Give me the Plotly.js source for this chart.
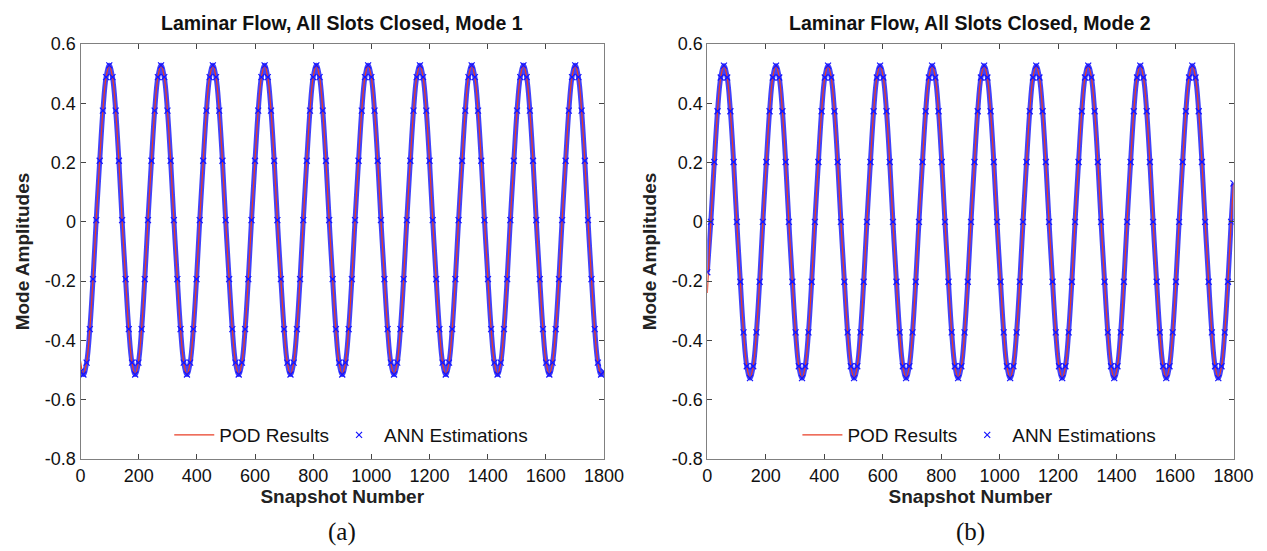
<!DOCTYPE html>
<html>
<head>
<meta charset="utf-8">
<script src="https://cdn.plot.ly/plotly-3.0.1.min.js"></script>
<style>html,body{margin:0;padding:0;background:#fff}#chart{width:1267px;height:551px}</style>
</head>
<body>
<div id="chart"></div>
<script>
// ---------- DATA ----------
const titles = ['Laminar Flow, All Slots Closed, Mode 1', 'Laminar Flow, All Slots Closed, Mode 2'];
const panelLabels = ['(a)', '(b)'];
const xTicks = [0, 200, 400, 600, 800, 1000, 1200, 1400, 1600, 1800];
const xTickText = ['0', '200', '400', '600', '800', '1000', '1200', '1400', '1600', '1800'];
const yTicks = [-0.8, -0.6, -0.4, -0.2, 0, 0.2, 0.4, 0.6];
const yTickText = ['-0.8', '-0.6', '-0.4', '-0.2', '0', '0.2', '0.4', '0.6'];

// Mode 1 snapshot numbers
const snap1 = [0,
  10,21,32,43,54,66,77,88,99,110,121,132,143,155,166,177,
  188,199,210,221,232,244,255,266,277,288,299,310,321,333,344,355,
  366,377,388,399,410,422,433,444,455,466,477,488,499,511,522,533,
  544,555,566,577,588,600,611,622,633,644,655,666,677,689,700,711,
  722,733,744,755,766,778,789,800,811,822,833,844,855,867,878,889,
  900,911,922,933,944,956,967,978,989,1000,1011,1022,1033,1045,1056,1067,
  1078,1089,1100,1111,1122,1134,1145,1156,1167,1178,1189,1200,1211,1223,1234,1245,
  1256,1267,1278,1289,1300,1312,1323,1334,1345,1356,1367,1378,1389,1401,1412,1423,
  1434,1445,1456,1467,1478,1490,1501,1512,1523,1534,1545,1556,1567,1579,1590,1601,
  1612,1623,1634,1645,1656,1668,1679,1690,1701,1712,1723,1734,1745,1757,1768,1779,
  1790, 1800];
// Mode 1 POD results
const pod1 = [-0.47,
  -0.515,-0.475,-0.362,-0.193,0.006,0.206,0.375,0.488,0.528,0.488,0.375,0.206,0.006,-0.193,-0.362,-0.475,
  -0.515,-0.475,-0.362,-0.193,0.006,0.206,0.375,0.488,0.528,0.488,0.375,0.206,0.006,-0.193,-0.362,-0.475,
  -0.515,-0.475,-0.362,-0.193,0.006,0.206,0.375,0.488,0.528,0.488,0.375,0.206,0.006,-0.193,-0.362,-0.475,
  -0.515,-0.475,-0.362,-0.193,0.006,0.206,0.375,0.488,0.528,0.488,0.375,0.206,0.006,-0.193,-0.362,-0.475,
  -0.515,-0.475,-0.362,-0.193,0.006,0.206,0.375,0.488,0.528,0.488,0.375,0.206,0.006,-0.193,-0.362,-0.475,
  -0.515,-0.475,-0.362,-0.193,0.006,0.206,0.375,0.488,0.528,0.488,0.375,0.206,0.006,-0.193,-0.362,-0.475,
  -0.515,-0.475,-0.362,-0.193,0.006,0.206,0.375,0.488,0.528,0.488,0.375,0.206,0.006,-0.193,-0.362,-0.475,
  -0.515,-0.475,-0.362,-0.193,0.006,0.206,0.375,0.488,0.528,0.488,0.375,0.206,0.006,-0.193,-0.362,-0.475,
  -0.515,-0.475,-0.362,-0.193,0.006,0.206,0.375,0.488,0.528,0.488,0.375,0.206,0.006,-0.193,-0.362,-0.475,
  -0.515,-0.475,-0.362,-0.193,0.006,0.206,0.375,0.488,0.528,0.488,0.375,0.206,0.006,-0.193,-0.362,-0.475,
  -0.515, -0.505];
// Mode 1 ANN estimations
const ann1 = [-0.505,
  -0.515,-0.475,-0.362,-0.193,0.006,0.206,0.375,0.488,0.528,0.488,0.375,0.206,0.006,-0.193,-0.362,-0.475,
  -0.515,-0.475,-0.362,-0.193,0.006,0.206,0.375,0.488,0.528,0.488,0.375,0.206,0.006,-0.193,-0.362,-0.475,
  -0.515,-0.475,-0.362,-0.193,0.006,0.206,0.375,0.488,0.528,0.488,0.375,0.206,0.006,-0.193,-0.362,-0.475,
  -0.515,-0.475,-0.362,-0.193,0.006,0.206,0.375,0.488,0.528,0.488,0.375,0.206,0.006,-0.193,-0.362,-0.475,
  -0.515,-0.475,-0.362,-0.193,0.006,0.206,0.375,0.488,0.528,0.488,0.375,0.206,0.006,-0.193,-0.362,-0.475,
  -0.515,-0.475,-0.362,-0.193,0.006,0.206,0.375,0.488,0.528,0.488,0.375,0.206,0.006,-0.193,-0.362,-0.475,
  -0.515,-0.475,-0.362,-0.193,0.006,0.206,0.375,0.488,0.528,0.488,0.375,0.206,0.006,-0.193,-0.362,-0.475,
  -0.515,-0.475,-0.362,-0.193,0.006,0.206,0.375,0.488,0.528,0.488,0.375,0.206,0.006,-0.193,-0.362,-0.475,
  -0.515,-0.475,-0.362,-0.193,0.006,0.206,0.375,0.488,0.528,0.488,0.375,0.206,0.006,-0.193,-0.362,-0.475,
  -0.515,-0.475,-0.362,-0.193,0.006,0.206,0.375,0.488,0.528,0.488,0.375,0.206,0.006,-0.193,-0.362,-0.475,
  -0.515, -0.505];

// Mode 2 snapshot numbers
const snap2 = [0,
  12,24,35,46,57,68,79,90,101,113,124,135,
  146,157,168,179,190,202,213,224,235,246,257,268,279,291,302,313,
  324,335,346,357,368,380,391,402,413,424,435,446,457,469,480,491,
  502,513,524,535,546,558,569,580,591,602,613,624,635,647,658,669,
  680,691,702,713,724,736,747,758,769,780,791,802,813,825,836,847,
  858,869,880,891,902,914,925,936,947,958,969,980,991,1003,1014,1025,
  1036,1047,1058,1069,1080,1092,1103,1114,1125,1136,1147,1158,1169,1181,1192,1203,
  1214,1225,1236,1247,1258,1270,1281,1292,1303,1314,1325,1336,1347,1359,1370,1381,
  1392,1403,1414,1425,1436,1448,1459,1470,1481,1492,1503,1514,1525,1537,1548,1559,
  1570,1581,1592,1603,1614,1626,1637,1648,1659,1670,1681,1692,1703,1715,1726,1737,
  1748,1759,1770,1781,1792, 1800];
// Mode 2 POD results
const pod2 = [-0.24,
  0,0.202,0.373,0.487,0.527,0.487,0.373,0.202,0,-0.202,-0.373,-0.487,
  -0.527,-0.487,-0.373,-0.202,0,0.202,0.373,0.487,0.527,0.487,0.373,0.202,0,-0.202,-0.373,-0.487,
  -0.527,-0.487,-0.373,-0.202,0,0.202,0.373,0.487,0.527,0.487,0.373,0.202,0,-0.202,-0.373,-0.487,
  -0.527,-0.487,-0.373,-0.202,0,0.202,0.373,0.487,0.527,0.487,0.373,0.202,0,-0.202,-0.373,-0.487,
  -0.527,-0.487,-0.373,-0.202,0,0.202,0.373,0.487,0.527,0.487,0.373,0.202,0,-0.202,-0.373,-0.487,
  -0.527,-0.487,-0.373,-0.202,0,0.202,0.373,0.487,0.527,0.487,0.373,0.202,0,-0.202,-0.373,-0.487,
  -0.527,-0.487,-0.373,-0.202,0,0.202,0.373,0.487,0.527,0.487,0.373,0.202,0,-0.202,-0.373,-0.487,
  -0.527,-0.487,-0.373,-0.202,0,0.202,0.373,0.487,0.527,0.487,0.373,0.202,0,-0.202,-0.373,-0.487,
  -0.527,-0.487,-0.373,-0.202,0,0.202,0.373,0.487,0.527,0.487,0.373,0.202,0,-0.202,-0.373,-0.487,
  -0.527,-0.487,-0.373,-0.202,0,0.202,0.373,0.487,0.527,0.487,0.373,0.202,0,-0.202,-0.373,-0.487,
  -0.527,-0.487,-0.373,-0.202,0, 0.13];
// Mode 2 ANN estimations
const ann2 = [-0.17,
  0,0.202,0.373,0.487,0.527,0.487,0.373,0.202,0,-0.202,-0.373,-0.487,
  -0.527,-0.487,-0.373,-0.202,0,0.202,0.373,0.487,0.527,0.487,0.373,0.202,0,-0.202,-0.373,-0.487,
  -0.527,-0.487,-0.373,-0.202,0,0.202,0.373,0.487,0.527,0.487,0.373,0.202,0,-0.202,-0.373,-0.487,
  -0.527,-0.487,-0.373,-0.202,0,0.202,0.373,0.487,0.527,0.487,0.373,0.202,0,-0.202,-0.373,-0.487,
  -0.527,-0.487,-0.373,-0.202,0,0.202,0.373,0.487,0.527,0.487,0.373,0.202,0,-0.202,-0.373,-0.487,
  -0.527,-0.487,-0.373,-0.202,0,0.202,0.373,0.487,0.527,0.487,0.373,0.202,0,-0.202,-0.373,-0.487,
  -0.527,-0.487,-0.373,-0.202,0,0.202,0.373,0.487,0.527,0.487,0.373,0.202,0,-0.202,-0.373,-0.487,
  -0.527,-0.487,-0.373,-0.202,0,0.202,0.373,0.487,0.527,0.487,0.373,0.202,0,-0.202,-0.373,-0.487,
  -0.527,-0.487,-0.373,-0.202,0,0.202,0.373,0.487,0.527,0.487,0.373,0.202,0,-0.202,-0.373,-0.487,
  -0.527,-0.487,-0.373,-0.202,0,0.202,0.373,0.487,0.527,0.487,0.373,0.202,0,-0.202,-0.373,-0.487,
  -0.527,-0.487,-0.373,-0.202,0, 0.13];

// ---------- CHART ----------
const W = 1267, H = 551;
const FONT = 'Liberation Sans, Arial, Helvetica, sans-serif';
const RED = 'rgb(232,62,38)';
const BLUE = 'rgb(20,20,255)';
const px = v => v / W;
const py = v => 1 - v / H;

const panels = [
  {x: snap1, pod: pod1, ann: ann1, xa: 'x', ya: 'y', lg: 'legend', dom: [80.5, 604]},
  {x: snap2, pod: pod2, ann: ann2, xa: 'x2', ya: 'y2', lg: 'legend2', dom: [707.3, 1233.5]}
];

const traces = [];
panels.forEach((p, i) => {
  traces.push({
    x: p.x, y: p.ann, xaxis: p.xa, yaxis: p.ya, type: 'scatter', mode: 'lines',
    line: {color: 'rgba(25,25,250,0.82)', width: 5, shape: 'spline', smoothing: 1},
    showlegend: false, hoverinfo: 'skip', legend: p.lg
  });
  traces.push({
    x: p.x, y: p.pod, xaxis: p.xa, yaxis: p.ya, type: 'scatter', mode: 'lines',
    name: 'POD Results', legend: p.lg,
    line: {color: RED, width: 1.3, shape: 'spline', smoothing: 1}
  });
  traces.push({
    x: p.x, y: p.ann, xaxis: p.xa, yaxis: p.ya, type: 'scatter', mode: 'markers',
    name: 'ANN Estimations', legend: p.lg,
    marker: {symbol: 'x-thin-open', size: 6, color: BLUE, line: {color: BLUE, width: 1.2}}
  });
});

function xAxis(dom, anchor) {
  return {
    domain: [px(dom[0]), px(dom[1])], anchor: anchor, range: [0, 1800],
    tickmode: 'array', tickvals: xTicks, ticktext: xTickText,
    ticks: 'inside', ticklen: 5, tickcolor: '#444', tickwidth: 1,
    showline: true, linecolor: '#808080', linewidth: 1, mirror: 'ticks',
    showgrid: false, zeroline: false,
    tickfont: {family: FONT, size: 18, color: '#111'},
    title: {text: '<b>Snapshot Number</b>', font: {family: FONT, size: 19, color: '#222'}, standoff: 3}
  };
}
function yAxis(anchor) {
  return {
    domain: [py(459), py(44)], anchor: anchor, range: [-0.8, 0.6],
    tickmode: 'array', tickvals: yTicks, ticktext: yTickText,
    ticks: 'inside', ticklen: 5, tickcolor: '#444', tickwidth: 1,
    showline: true, linecolor: '#808080', linewidth: 1, mirror: 'ticks',
    showgrid: false, zeroline: false,
    tickfont: {family: FONT, size: 18, color: '#111'},
    title: {text: '<b>Mode Amplitudes</b>', font: {family: FONT, size: 19, color: '#222'}, standoff: 10}
  };
}
function legendAt(dom) {
  return {
    orientation: 'h', x: px((dom[0] + dom[1]) / 2 + 9), xanchor: 'center',
    y: py(435), yanchor: 'middle', bgcolor: 'rgba(0,0,0,0)', borderwidth: 0,
    font: {family: FONT, size: 19, color: '#111'}, itemwidth: 40, tracegroupgap: 0
  };
}

const annotations = [];
panels.forEach((p, i) => {
  const cx = px((p.dom[0] + p.dom[1]) / 2);
  annotations.push({
    text: '<b>' + titles[i] + '</b>', xref: 'paper', yref: 'paper', x: cx, y: py(23),
    xanchor: 'center', yanchor: 'middle', showarrow: false,
    font: {family: FONT, size: 19.5, color: '#111'}
  });
  annotations.push({
    text: panelLabels[i], xref: 'paper', yref: 'paper', x: cx, y: py(532),
    xanchor: 'center', yanchor: 'middle', showarrow: false,
    font: {family: 'Liberation Serif, Times New Roman, serif', size: 25, color: '#111'}
  });
});

const layout = {
  width: W, height: H,
  margin: {l: 0, r: 0, t: 0, b: 0},
  paper_bgcolor: '#fff', plot_bgcolor: '#fff',
  xaxis: xAxis(panels[0].dom, 'y'),
  yaxis: yAxis('x'),
  xaxis2: xAxis(panels[1].dom, 'y2'),
  yaxis2: yAxis('x2'),
  legend: legendAt(panels[0].dom),
  legend2: legendAt(panels[1].dom),
  annotations: annotations
};

Plotly.newPlot('chart', traces, layout, {displayModeBar: false, staticPlot: true});
</script>
</body>
</html>
